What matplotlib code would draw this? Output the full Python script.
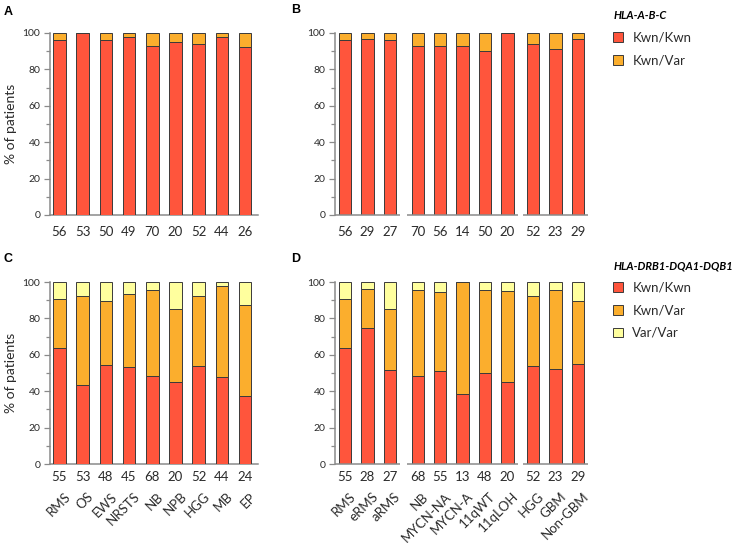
import matplotlib
matplotlib.use("Agg")
import matplotlib.pyplot as plt
from matplotlib.patches import Patch
from matplotlib.ticker import MultipleLocator
from matplotlib.transforms import blended_transform_factory

plt.rcParams['font.family'] = ['Lato', 'DejaVu Sans']

# ---------------- data ----------------
cats_left = ["RMS", "OS", "EWS", "NRSTS", "NB", "NPB", "HGG", "MB", "EP"]
n_A = [56, 53, 50, 49, 70, 20, 52, 44, 26]
kk_A = [96.4, 100, 96.0, 98.0, 92.9, 95.0, 94.2, 97.7, 92.3]
kv_A = [3.6, 0, 4.0, 2.0, 7.1, 5.0, 5.8, 2.3, 7.7]

cats_right = ["RMS", "eRMS", "aRMS", "NB", "MYCN-NA", "MYCN-A", "11qWT", "11qLOH",
              "HGG", "GBM", "Non-GBM"]
groups_right = [3, 5, 3]
n_B = [56, 29, 27, 70, 56, 14, 50, 20, 52, 23, 29]
kk_B = [96.4, 96.6, 96.3, 92.9, 92.9, 92.9, 90.0, 100, 94.2, 91.3, 96.6]
kv_B = [3.6, 3.4, 3.7, 7.1, 7.1, 7.1, 10.0, 0, 5.8, 8.7, 3.4]

n_C = [55, 53, 48, 45, 68, 20, 52, 44, 24]
kk_C = [63.6, 43.4, 54.2, 53.3, 48.5, 45.0, 53.8, 47.7, 37.5]
kv_C = [27.3, 49.1, 35.4, 40.0, 47.1, 40.0, 38.5, 50.0, 50.0]
vv_C = [9.1, 7.5, 10.4, 6.7, 4.4, 15.0, 7.7, 2.3, 12.5]

n_D = [55, 28, 27, 68, 55, 13, 48, 20, 52, 23, 29]
kk_D = [63.6, 75.0, 51.9, 48.5, 50.9, 38.5, 50.0, 45.0, 53.8, 52.2, 55.2]
kv_D = [27.3, 21.4, 33.3, 47.1, 43.6, 61.5, 45.8, 50.0, 38.5, 43.5, 34.5]
vv_D = [9.1, 3.6, 14.8, 4.4, 5.5, 0, 4.2, 5.0, 7.7, 4.3, 10.3]

legend_labels = ["Kwn/Kwn", "Kwn/Var", "Var/Var"]
title_top = "HLA-A-B-C"
title_bottom = "HLA-DRB1-DQA1-DQB1"

C_KK = "#FF553C"
C_KV = "#FBAE2D"
C_VV = "#FFFF9E"
EDGE = "#3a3a3a"
SPINE = "#8a8a8a"
TXT = "#2a2a2a"

W, H = 738, 543
fig = plt.figure(figsize=(W / 100, H / 100), dpi=100)


def fbox(x0, x1, ytop, ybot):
    return [x0 / W, 1 - ybot / H, (x1 - x0) / W, (ybot - ytop) / H]


def right_positions():
    gap_extra = [0, 0.25, 0.15]
    pos, segs = [], []
    cur = 0.0
    for g, size in enumerate(groups_right):
        cur += gap_extra[g]
        p = [cur + i for i in range(size)]
        segs.append((p[0], p[-1]))
        pos.extend(p)
        cur = p[-1] + 1
    return pos, segs


def style_axis(ax):
    ax.set_ylim(0, 100)
    ax.yaxis.set_major_locator(MultipleLocator(20))
    ax.yaxis.set_minor_locator(MultipleLocator(10))
    ax.tick_params(axis='y', which='major', length=4, width=0.9, color=SPINE,
                   labelsize=7.5, labelcolor=TXT, pad=3)
    ax.tick_params(axis='y', which='minor', length=3, width=0.9, color=SPINE)
    ax.tick_params(axis='x', length=0, labelsize=9.5, labelcolor=TXT)
    for s in ['top', 'right']:
        ax.spines[s].set_visible(False)
    ax.spines['left'].set_color(SPINE)
    ax.spines['left'].set_linewidth(1.1)
    ax.spines['bottom'].set_color(SPINE)
    ax.spines['bottom'].set_linewidth(1.1)


def stacked(ax, x, layers, colors, width):
    bottom = [0] * len(x)
    for vals, col in zip(layers, colors):
        ax.bar(x, vals, width, bottom=bottom, color=col, edgecolor=EDGE,
               linewidth=0.7, zorder=3)
        bottom = [bb + v for bb, v in zip(bottom, vals)]


def add_cats(ax, x, cats):
    tr = blended_transform_factory(ax.transData, ax.transAxes)
    for xi, c in zip(x, cats):
        ax.text(xi + 0.2, -0.145, c, transform=tr, rotation=45, ha='right', va='top',
                rotation_mode='anchor', fontsize=9.5, color=TXT)


def segmented_xaxis(ax, segs):
    ax.spines['bottom'].set_visible(False)
    for a, b in segs:
        ax.plot([a - 0.47, b + 0.47], [0, 0], color=SPINE, lw=1.1, clip_on=False,
                solid_capstyle='butt', zorder=4)


# ---------- Panel A ----------
axA = fig.add_axes(fbox(50, 258, 33, 215))
xA = list(range(len(n_A)))
stacked(axA, xA, [kk_A, kv_A], [C_KK, C_KV], 0.54)
style_axis(axA)
axA.set_xlim(-0.4, 8.55)
axA.set_xticks(xA)
axA.set_xticklabels([str(v) for v in n_A])
axA.tick_params(axis='x', pad=8)

# ---------- Panel B ----------
posR, segs = right_positions()
axB = fig.add_axes(fbox(335, 589, 33, 215))
stacked(axB, posR, [kk_B, kv_B], [C_KK, C_KV], 0.56)
style_axis(axB)
axB.set_xlim(posR[0] - 0.45, posR[-1] + 0.5)
segmented_xaxis(axB, segs)
axB.set_xticks(posR)
axB.set_xticklabels([str(v) for v in n_B])
axB.tick_params(axis='x', pad=8)

# ---------- Panel C ----------
axC = fig.add_axes(fbox(50, 258, 282, 464))
stacked(axC, xA, [kk_C, kv_C, vv_C], [C_KK, C_KV, C_VV], 0.54)
style_axis(axC)
axC.set_xlim(-0.4, 8.55)
axC.set_xticks(xA)
axC.set_xticklabels([str(v) for v in n_C])
axC.tick_params(axis='x', pad=5)
add_cats(axC, xA, cats_left)

# ---------- Panel D ----------
axD = fig.add_axes(fbox(335, 589, 282, 464))
stacked(axD, posR, [kk_D, kv_D, vv_D], [C_KK, C_KV, C_VV], 0.56)
style_axis(axD)
axD.set_xlim(posR[0] - 0.45, posR[-1] + 0.5)
segmented_xaxis(axD, segs)
axD.set_xticks(posR)
axD.set_xticklabels([str(v) for v in n_D])
axD.tick_params(axis='x', pad=5)
add_cats(axD, posR, cats_right)

# ---------- labels ----------
for lab, x, y in [("A", 4, 6), ("B", 291, 4), ("C", 4, 253), ("D", 291, 253)]:
    fig.text(x / W, 1 - y / H, lab, fontsize=9, fontweight='bold',
             family=['Liberation Sans', 'DejaVu Sans'], ha='left', va='top', color='black')

fig.text(11.5 / W, 1 - 124 / H, "% of patients", rotation=90, ha='center', va='center',
         fontsize=10, color=TXT)
fig.text(11.5 / W, 1 - 373 / H, "% of patients", rotation=90, ha='center', va='center',
         fontsize=10, color=TXT)


# ---------- legends ----------
def make_legend(title, labels, colors, ytop):
    handles = [Patch(facecolor=c, edgecolor=EDGE, linewidth=0.7) for c in colors]
    leg = fig.legend(handles, labels, loc='upper left',
                     bbox_to_anchor=(608 / W, 1 - ytop / H), frameon=False,
                     fontsize=9.5, title=title, title_fontsize=8, alignment='left',
                     handlelength=0.75, handleheight=0.75, handletextpad=0.7,
                     labelspacing=0.8, borderaxespad=0)
    leg.get_title().set_fontweight('bold')
    leg.get_title().set_fontstyle('italic')
    leg.get_title().set_color('black')
    for t in leg.get_texts():
        t.set_color(TXT)
    return leg


make_legend(title_top, legend_labels[:2], [C_KK, C_KV], 5)
make_legend(title_bottom, legend_labels, [C_KK, C_KV, C_VV], 255)

fig.savefig("out.png", dpi=100)
